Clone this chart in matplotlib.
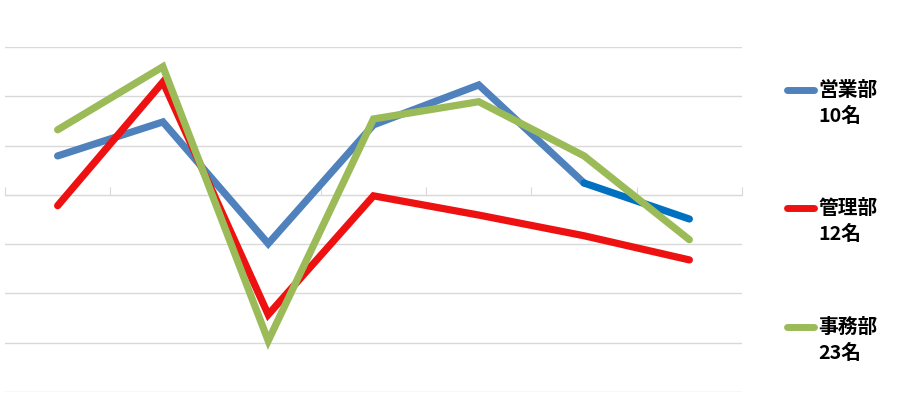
import matplotlib.pyplot as plt
from matplotlib.lines import Line2D

plt.rcParams['font.family'] = ['Noto Sans CJK JP', 'DejaVu Sans']

# --- Data ---
categories = ["1", "2", "3", "4", "5", "6", "7"]
series_names = ["営業部", "管理部", "事務部"]
series_counts = ["10名", "12名", "23名"]
eigyo = [0.79, 1.48, -0.99, 1.42, 2.23, 0.24, -0.49]
kanri = [-0.22, 2.29, -2.43, -0.02, -0.41, -0.83, -1.32]
jimu = [1.32, 2.60, -2.96, 1.54, 1.89, 0.79, -0.91]

# --- Colors ---
COLOR_BLUE = "#4F81BD"
COLOR_BLUE_LAST = "#0070C0"   # last segment of 営業部 is a different blue
COLOR_RED = "#EE1111"
COLOR_GREEN = "#9BBB59"
GRID_COLOR = "#D9D9D9"

fig = plt.figure(figsize=(9.16, 4.13), dpi=100)
ax = fig.add_axes([5 / 916, 21 / 413, 737 / 916, 345 / 413])

x = list(range(len(categories)))
lw = 5.2

ax.plot(x[:-1], eigyo[:-1], color=COLOR_BLUE, lw=lw, solid_capstyle='round',
        solid_joinstyle='miter', zorder=3)
ax.plot(x[-2:], eigyo[-2:], color=COLOR_BLUE_LAST, lw=lw, solid_capstyle='round', zorder=3)
ax.plot(x, kanri, color=COLOR_RED, lw=lw, solid_capstyle='round',
        solid_joinstyle='miter', zorder=4)
ax.plot(x, jimu, color=COLOR_GREEN, lw=lw, solid_capstyle='round',
        solid_joinstyle='miter', zorder=5)

ax.set_xlim(-0.5, len(categories) - 0.5)
ax.set_ylim(-4, 3)
ax.set_yticks(range(-4, 4))
ax.grid(axis='y', color=GRID_COLOR, lw=1)
ax.set_axisbelow(True)

for side in ['left', 'right', 'top']:
    ax.spines[side].set_visible(False)
ax.spines['bottom'].set_position(('data', 0))
ax.spines['bottom'].set_color(GRID_COLOR)
ax.spines['bottom'].set_zorder(1)
ax.set_xticks([i - 0.5 for i in range(len(categories) + 1)])
ax.tick_params(axis='x', direction='in', length=6, color=GRID_COLOR,
               labelbottom=False)
ax.tick_params(axis='y', length=0, labelleft=False)

# --- Legend (manual, handle aligned with first text line) ---
legend_colors = [COLOR_BLUE, COLOR_RED, COLOR_GREEN]
legend_y = [90, 208, 327]
for name, count, col, yp in zip(series_names, series_counts, legend_colors, legend_y):
    fy = 1 - yp / 413
    fig.add_artist(Line2D([787 / 916, 814 / 916], [fy, fy], color=col, lw=5,
                          solid_capstyle='round', transform=fig.transFigure))
    fig.text(818 / 916, fy, name, fontsize=14.2, fontweight='bold',
             va='center', ha='left')
    fig.text(818 / 916, fy - 26 / 413, count, fontsize=14.2, fontweight='bold',
             va='center', ha='left')

fig.savefig("out.png", dpi=100)
